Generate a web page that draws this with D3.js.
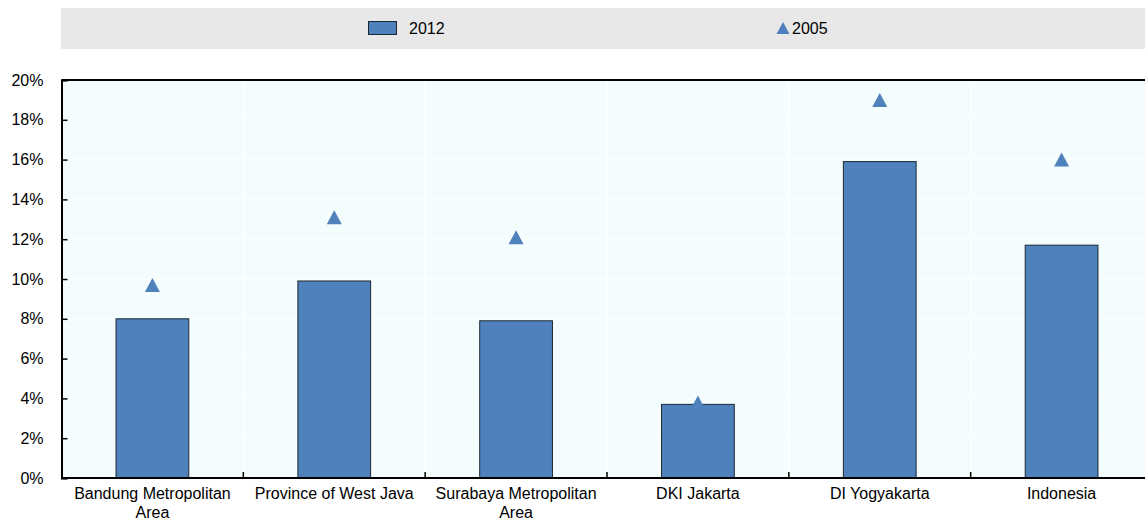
<!DOCTYPE html>
<html>
<head>
<meta charset="utf-8">
<script src="https://cdn.jsdelivr.net/npm/d3@7"></script>
<style>
  html, body { margin: 0; padding: 0; background: #ffffff; }
  svg { display: block; font-family: "Liberation Sans", Arial, sans-serif; }
</style>
</head>
<body>
<svg id="chart" width="1145" height="525"></svg>
<script>
// Regions compared
const categories = [
  "Bandung Metropolitan Area",
  "Province of West Java",
  "Surabaya Metropolitan Area",
  "DKI Jakarta",
  "DI Yogyakarta",
  "Indonesia"
];
// Share (%) in 2012, drawn as bars
const values2012 = [8.0, 9.9, 7.9, 3.7, 15.9, 11.7];
// Share (%) in 2005, drawn as triangles
const values2005 = [9.7, 13.1, 12.1, 3.8, 19.0, 16.0];
// Y axis ticks
const yTicks = [0, 2, 4, 6, 8, 10, 12, 14, 16, 18, 20];
const seriesNames = ["2012", "2005"];

const barFill = "#4f81bd";
const barStroke = "#1c2733";
const plotBg = "#f3fdfe";
const fontSize = 16;

const svg = d3.select("#chart");
const margin = { left: 61.5, top: 80, right: 1152.5, bottom: 478 };

const x = d3.scaleBand()
  .domain(categories)
  .range([margin.left, margin.right])
  .paddingInner(0)
  .paddingOuter(0);

const y = d3.scaleLinear()
  .domain([0, 20])
  .range([margin.bottom, margin.top]);

// Legend band
const legend = svg.append("g");
legend.append("rect")
  .attr("x", 61).attr("y", 8)
  .attr("width", 1145 - 61).attr("height", 41)
  .attr("fill", "#e8e8e8");
legend.append("rect")
  .attr("x", 368.5).attr("y", 21.5)
  .attr("width", 28).attr("height", 13)
  .attr("fill", barFill).attr("stroke", barStroke).attr("stroke-width", 1);
legend.append("text")
  .attr("x", 409).attr("y", 34)
  .attr("font-size", fontSize).attr("fill", "#000")
  .text(seriesNames[0]);
const tri = (w, h) => `M${-w / 2},${h / 2}L0,${-h / 2}L${w / 2},${h / 2}Z`;
legend.append("path")
  .attr("d", tri(13, 12))
  .attr("transform", "translate(783,28)")
  .attr("fill", barFill);
legend.append("text")
  .attr("x", 792).attr("y", 34)
  .attr("font-size", fontSize).attr("fill", "#000")
  .text(seriesNames[1]);

// Plot background
svg.append("rect")
  .attr("x", margin.left).attr("y", margin.top)
  .attr("width", margin.right - margin.left)
  .attr("height", margin.bottom - margin.top)
  .attr("fill", plotBg);

// Horizontal gridlines
svg.append("g")
  .selectAll("line")
  .data(yTicks.filter(d => d > 0 && d < 20))
  .join("line")
  .attr("x1", margin.left).attr("x2", margin.right)
  .attr("y1", d => y(d)).attr("y2", d => y(d))
  .attr("stroke", "#ffffff").attr("stroke-width", 1);

// Vertical gridlines at category boundaries
const boundaries = categories.slice(1).map(c => x(c));
svg.append("g")
  .selectAll("line")
  .data(boundaries)
  .join("line")
  .attr("x1", d => d).attr("x2", d => d)
  .attr("y1", margin.top).attr("y2", margin.bottom)
  .attr("stroke", "#ffffff").attr("stroke-width", 1.5);

// Bars (2012)
const barW = x.bandwidth() * 0.4;
svg.append("g")
  .selectAll("rect")
  .data(categories)
  .join("rect")
  .attr("x", (d) => x(d) + (x.bandwidth() - barW) / 2)
  .attr("y", (d, i) => y(values2012[i]))
  .attr("width", barW)
  .attr("height", (d, i) => y(0) - y(values2012[i]))
  .attr("fill", barFill)
  .attr("stroke", barStroke)
  .attr("stroke-width", 1);

// Markers (2005)
svg.append("g")
  .selectAll("path")
  .data(categories)
  .join("path")
  .attr("d", tri(15, 14))
  .attr("transform", (d, i) => `translate(${x(d) + x.bandwidth() / 2},${y(values2005[i])})`)
  .attr("fill", barFill);

// Y axis
const yAxis = d3.axisLeft(y)
  .tickValues(yTicks)
  .tickFormat(d => d + "%")
  .tickSize(-6)
  .tickPadding(18);
const gy = svg.append("g")
  .attr("transform", `translate(${margin.left},0)`)
  .call(yAxis);
gy.select(".domain").attr("stroke", "#000").attr("stroke-width", 2);
gy.selectAll(".tick line").attr("stroke", "#000").attr("stroke-width", 1.5);
gy.selectAll(".tick text")
  .attr("font-size", fontSize)
  .attr("font-family", "Liberation Sans, Arial, sans-serif")
  .attr("fill", "#000");

// Top border
svg.append("line")
  .attr("x1", margin.left).attr("x2", 1145)
  .attr("y1", margin.top).attr("y2", margin.top)
  .attr("stroke", "#000").attr("stroke-width", 2);

// X axis line and boundary ticks
svg.append("line")
  .attr("x1", margin.left).attr("x2", 1145)
  .attr("y1", margin.bottom).attr("y2", margin.bottom)
  .attr("stroke", "#000").attr("stroke-width", 2);
svg.append("g")
  .selectAll("line")
  .data(boundaries)
  .join("line")
  .attr("x1", d => d).attr("x2", d => d)
  .attr("y1", margin.bottom).attr("y2", margin.bottom - 6)
  .attr("stroke", "#000").attr("stroke-width", 1.5);

// Category labels, wrapped to fit the band
const maxW = 170;
const labels = svg.append("g")
  .attr("font-size", fontSize)
  .attr("fill", "#000")
  .attr("text-anchor", "middle");
categories.forEach(c => {
  const cx = x(c) + x.bandwidth() / 2;
  const t = labels.append("text").attr("x", cx).attr("y", margin.bottom + 21);
  const words = c.split(" ");
  let line = [];
  let tspan = t.append("tspan").attr("x", cx).attr("dy", 0);
  words.forEach(w => {
    line.push(w);
    tspan.text(line.join(" "));
    if (tspan.node().getComputedTextLength() > maxW && line.length > 1) {
      line.pop();
      tspan.text(line.join(" "));
      line = [w];
      tspan = t.append("tspan").attr("x", cx).attr("dy", 19).text(w);
    }
  });
});
</script>
</body>
</html>
